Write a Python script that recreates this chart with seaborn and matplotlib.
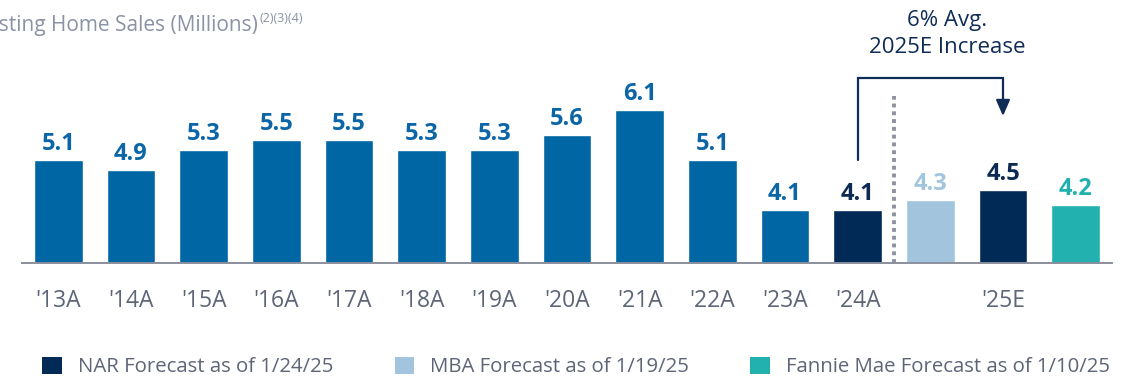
import matplotlib
matplotlib.use("Agg")
import matplotlib.pyplot as plt
from matplotlib.patches import Patch
import seaborn as sns
import pandas as pd
import numpy as np

# Existing home sales, millions
slots = ["'13A", "'14A", "'15A", "'16A", "'17A", "'18A", "'19A", "'20A",
         "'21A", "'22A", "'23A", "'24A", "'25E MBA", "'25E NAR", "'25E Fannie"]
sales = [5.1, 4.9, 5.3, 5.5, 5.5, 5.3, 5.3, 5.6, 6.1, 5.1, 4.1, 4.1, 4.3, 4.5, 4.2]
groups = ["Actual"] * 11 + ["NAR", "MBA", "NAR", "Fannie"]
tick_labels = ["'13A", "'14A", "'15A", "'16A", "'17A", "'18A", "'19A", "'20A",
               "'21A", "'22A", "'23A", "'24A", "", "'25E", ""]
legend_labels = ["NAR Forecast as of 1/24/25", "MBA Forecast as of 1/19/25",
                 "Fannie Mae Forecast as of 1/10/25"]

palette = {"Actual": "#0066a4", "NAR": "#012a56", "MBA": "#a2c5dd", "Fannie": "#22b1ae"}
label_colors = {"Actual": "#0b65a6", "NAR": "#0c2a52", "MBA": "#a2c5dd", "Fannie": "#22b1ae"}
text_gray = "#5d6577"
title_gray = "#8a92a4"
navy = "#0f2c57"

sns.set_theme(style="white")
plt.rcParams["font.family"] = ["Open Sans", "DejaVu Sans"]

df = pd.DataFrame({"slot": slots, "sales": sales, "group": groups})

fig = plt.figure(figsize=(11.27, 3.77), dpi=100)
ax = fig.add_axes([22 / 1127, 1 - 263 / 377, 1090 / 1127, 263 / 377])

sns.barplot(data=df, x="slot", y="sales", hue="group", palette=palette,
            dodge=False, width=0.67, legend=False, ax=ax, saturation=1)

ymin = 3.05
ax.set_ylim(ymin, ymin + 263 / 50)
ax.set_xlim(-0.5, len(slots) - 0.5)

# value labels above each bar
for i, (v, g) in enumerate(zip(sales, groups)):
    ax.annotate(f"{v:.1f}", (i, v), xytext=(0, 3), textcoords="offset points",
                ha="center", va="bottom", fontsize=17, fontweight="bold",
                color=label_colors[g])

# axis styling
for s in ["left", "top", "right"]:
    ax.spines[s].set_visible(False)
ax.spines["bottom"].set_color("#8a8f9c")
ax.spines["bottom"].set_linewidth(1.4)
ax.set_yticks([])
ax.set_xlabel("")
ax.set_ylabel("")
ax.set_xticks(range(len(slots)))
ax.set_xticklabels(tick_labels, fontsize=16.5, color=text_gray)
ax.tick_params(axis="x", which="major", length=0, pad=19)
ax.set_xticks(np.arange(-0.5, len(slots), 1.0), minor=True)
ax.tick_params(axis="x", which="minor", length=6, width=1.2, color="#8a8f9c",
               direction="out")

# divider between actuals and 2025 forecasts
ax.plot([11.5, 11.5], [ymin, ymin + (263 - 96) / 50], linestyle=(0, (1, 1)),
        color="#8e92a0", linewidth=2.8, clip_on=False)

# bracket arrow from 2024 to 2025E NAR forecast
y_line_bot = ymin + (263 - 160) / 50
y_line_top = ymin + (263 - 78) / 50
y_arrow_tip = ymin + (263 - 116) / 50
ax.plot([11, 11, 13, 13], [y_line_bot, y_line_top, y_line_top, y_arrow_tip + 0.25],
        color=navy, linewidth=1.6, solid_joinstyle="miter", clip_on=False)
ax.annotate("", xy=(13, y_arrow_tip), xytext=(13, y_arrow_tip + 0.3),
            arrowprops=dict(arrowstyle="-|>,head_width=0.35,head_length=0.8",
                            color=navy, lw=1.6, shrinkA=0, shrinkB=0),
            annotation_clip=False)
fig.text(947 / 1127, 1 - 34 / 377, "6% Avg.\n2025E Increase", ha="center",
         va="center", fontsize=16, color=navy, linespacing=1.4)

# chart title, running off the left edge
fig.text(258 / 1127, 1 - 31 / 377, "Existing Home Sales (Millions)",
         fontsize=15, color=title_gray, ha="right", va="baseline")
fig.text(260 / 1127, 1 - 22 / 377, "(2)(3)(4)", fontsize=9, color=title_gray,
         ha="left", va="baseline")

# legend
handles = [Patch(facecolor=palette[k], edgecolor="none") for k in ["NAR", "MBA", "Fannie"]]
leg = fig.legend(handles, legend_labels, loc="center left",
                 bbox_to_anchor=(34 / 1127, 1 - 367 / 377), ncol=3, frameon=False,
                 fontsize=14.7, handlelength=0.95, handleheight=0.95, handletextpad=0.8,
                 columnspacing=3.0, borderaxespad=0)
for t in leg.get_texts():
    t.set_color(text_gray)

fig.savefig("out.png", dpi=100)
